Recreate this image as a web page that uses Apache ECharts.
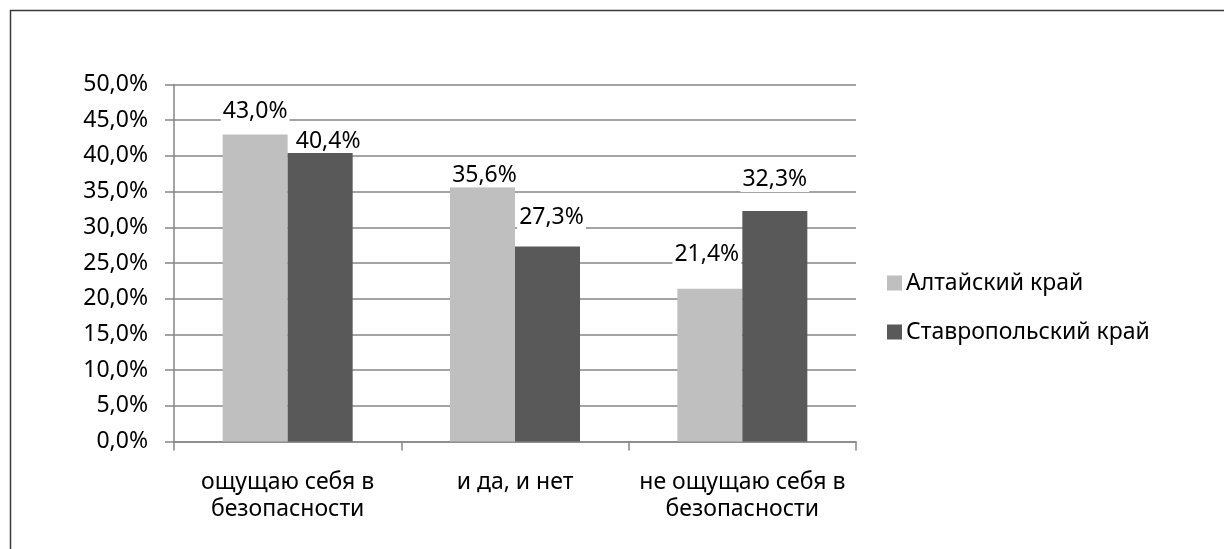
<!DOCTYPE html>
<html><head><meta charset="utf-8">
<script src="https://cdn.jsdelivr.net/npm/echarts@6/dist/echarts.min.js"></script>
<style>html,body{margin:0;padding:0;background:#fff}#c{width:1224px;height:549px}</style>
</head><body><div id="c"></div>
<script>
const categories = ['ощущаю себя в\nбезопасности', 'и да, и нет', 'не ощущаю себя в\nбезопасности'];
const seriesNames = ['Алтайский край', 'Ставропольский край'];
const altaiValues = [43.0, 35.6, 21.4];
const stavropolValues = [40.4, 27.3, 32.3];
const yTicks = [0, 5, 10, 15, 20, 25, 30, 35, 40, 45, 50];
// label nudges (style): [dx, distance above bar]
const altaiLabelNudge = [[0, 11], [2, 0], [-3, 22]];
const stavLabelNudge = [[8, 0], [4, 17], [0, 19]];

const FONT = 'Noto Sans';
const fmt = v => v.toFixed(1).replace('.', ',') + '%';
function mkData(vals, nudge) {
  return vals.map((v, i) => ({
    value: v,
    label: { offset: [nudge[i][0], 0], distance: nudge[i][1] }
  }));
}
const labelStyle = {
  show: true, position: 'top', formatter: p => fmt(p.value),
  color: '#000', fontFamily: FONT, fontSize: 23, lineHeight: 24,
  backgroundColor: '#fff', padding: [1, 2, 0, 2]
};
const chart = echarts.init(document.getElementById('c'), null, {renderer: 'canvas'});
chart.setOption({
  animation: false,
  backgroundColor: '#fff',
  graphic: [{
    type: 'rect', shape: {x: 10.5, y: 10.5, width: 1400, height: 800},
    style: {fill: 'none', stroke: '#3a3a3a', lineWidth: 1.5}, silent: true, z: 100
  }],
  grid: {left: 174, right: 368, top: 84.5, bottom: 107.5, containLabel: false},
  legend: {
    orient: 'vertical', left: 882, top: 266, itemWidth: 15, itemHeight: 15,
    itemGap: 25, icon: 'rect',
    textStyle: {color: '#000', fontFamily: FONT, fontSize: 23, lineHeight: 24, padding: [0, 0, 0, -1]},
    data: seriesNames
  },
  xAxis: {
    type: 'category', data: categories,
    axisLine: {lineStyle: {color: '#868686', width: 1.5}},
    axisTick: {show: true, length: 9, lineStyle: {color: '#868686', width: 1.5}},
    axisLabel: {interval: 0, color: '#000', fontFamily: FONT, fontSize: 23, lineHeight: 27, margin: 27}
  },
  yAxis: {
    type: 'value', min: yTicks[0], max: yTicks[yTicks.length - 1], interval: yTicks[1] - yTicks[0],
    axisLine: {show: true, lineStyle: {color: '#868686', width: 1.5}},
    axisTick: {show: true, length: 9, lineStyle: {color: '#868686', width: 1.5}},
    splitLine: {lineStyle: {color: '#868686', width: 1.5}},
    axisLabel: {color: '#000', fontFamily: FONT, fontSize: 23, margin: 26, formatter: fmt}
  },
  series: [
    {name: seriesNames[0], type: 'bar', barWidth: 65, barGap: '0%',
     itemStyle: {color: '#bfbfbf'}, label: labelStyle, data: mkData(altaiValues, altaiLabelNudge)},
    {name: seriesNames[1], type: 'bar', barWidth: 65, barGap: '0%',
     itemStyle: {color: '#595959'}, label: labelStyle, data: mkData(stavropolValues, stavLabelNudge)}
  ]
});
</script></body></html>
